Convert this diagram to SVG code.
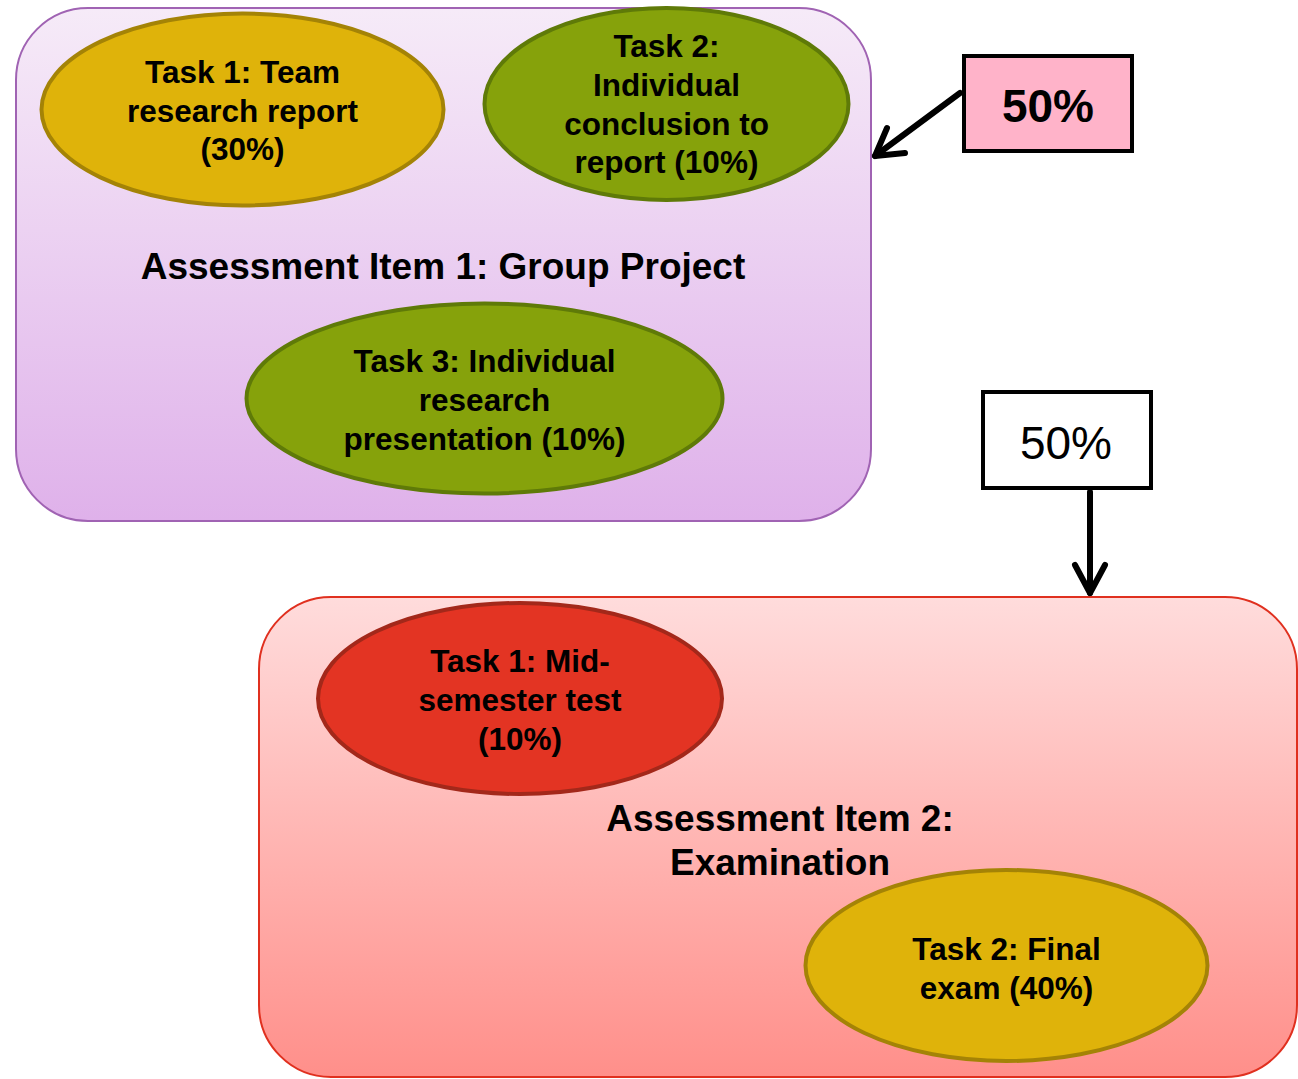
<svg xmlns="http://www.w3.org/2000/svg" width="1298" height="1079" viewBox="0 0 1298 1079">
<defs>
<linearGradient id="gPurple" x1="0" y1="0" x2="0" y2="1">
<stop offset="0" stop-color="#f6ebf8"/>
<stop offset="1" stop-color="#dfb1ea"/>
</linearGradient>
<linearGradient id="gRed" x1="0" y1="0" x2="0" y2="1">
<stop offset="0" stop-color="#ffdcdc"/>
<stop offset="1" stop-color="#ff8f8a"/>
</linearGradient>
<style>
text{font-family:"Liberation Sans",Arial,sans-serif;fill:#000;text-anchor:middle}
.t{font-size:31.5px;font-weight:bold}
.h{font-size:37px;font-weight:bold}
.yel{fill:#dfb30a;stroke:#a48306;stroke-width:4}
.grn{fill:#86a20b;stroke:#5f7a08;stroke-width:4}
.red{fill:#e33423;stroke:#a3281a;stroke-width:4}
.conn{fill:none;stroke:#000;stroke-width:6;stroke-linecap:round;stroke-linejoin:round}
</style>
</defs>
<rect width="1298" height="1079" fill="#fff"/>

<g id="item1">
<rect x="16" y="8" width="855" height="513" rx="72" ry="72" fill="url(#gPurple)" stroke="#a063b3" stroke-width="2"/>
<text class="h" x="443" y="279">Assessment Item 1: Group Project</text>
</g>

<g id="task1a">
<ellipse class="yel" cx="242.5" cy="109.5" rx="201" ry="96"/>
<text class="t" x="242.5" y="83">Task 1: Team</text>
<text class="t" x="242.5" y="122">research report</text>
<text class="t" x="242.5" y="160">(30%)</text>
</g>

<g id="task2a">
<ellipse class="grn" cx="666.5" cy="104" rx="182" ry="96"/>
<text class="t" x="666.5" y="57">Task 2:</text>
<text class="t" x="666.5" y="96">Individual</text>
<text class="t" x="666.5" y="135">conclusion to</text>
<text class="t" x="666.5" y="173">report (10%)</text>
</g>

<g id="task3a">
<ellipse class="grn" cx="484.5" cy="398.5" rx="238" ry="95"/>
<text class="t" x="484.5" y="372">Task 3: Individual</text>
<text class="t" x="484.5" y="411">research</text>
<text class="t" x="484.5" y="450">presentation (10%)</text>
</g>

<g id="item2">
<rect x="259" y="597" width="1038" height="480" rx="72" ry="72" fill="url(#gRed)" stroke="#e0301f" stroke-width="2"/>
<text class="h" x="780" y="831">Assessment Item 2:</text>
<text class="h" x="780" y="875">Examination</text>
</g>

<g id="task1b">
<ellipse class="red" cx="520" cy="698.5" rx="202" ry="95.5"/>
<text class="t" x="520" y="672">Task 1: Mid-</text>
<text class="t" x="520" y="711">semester test</text>
<text class="t" x="520" y="750">(10%)</text>
</g>

<g id="task2b">
<ellipse class="yel" cx="1006.5" cy="965.5" rx="201" ry="95.5"/>
<text class="t" x="1006.5" y="960">Task 2: Final</text>
<text class="t" x="1006.5" y="999">exam (40%)</text>
</g>

<g id="pct1">
<rect x="964" y="56" width="168" height="95" fill="#ffb3c9" stroke="#000" stroke-width="4"/>
<text x="1048" y="122" style="font-size:46px;font-weight:bold">50%</text>
</g>

<g id="pct2">
<rect x="983" y="392" width="168" height="96" fill="#fff" stroke="#000" stroke-width="4"/>
<text x="1066" y="459" style="font-size:46px">50%</text>
</g>

<g id="connectors">
<path class="conn" d="M960,93 L875,156"/>
<path class="conn" d="M887,128 L875,156 L905,153"/>
<path class="conn" d="M1090,492 L1090,593"/>
<path class="conn" d="M1075,565 L1090,593 L1105,565"/>
</g>
</svg>
